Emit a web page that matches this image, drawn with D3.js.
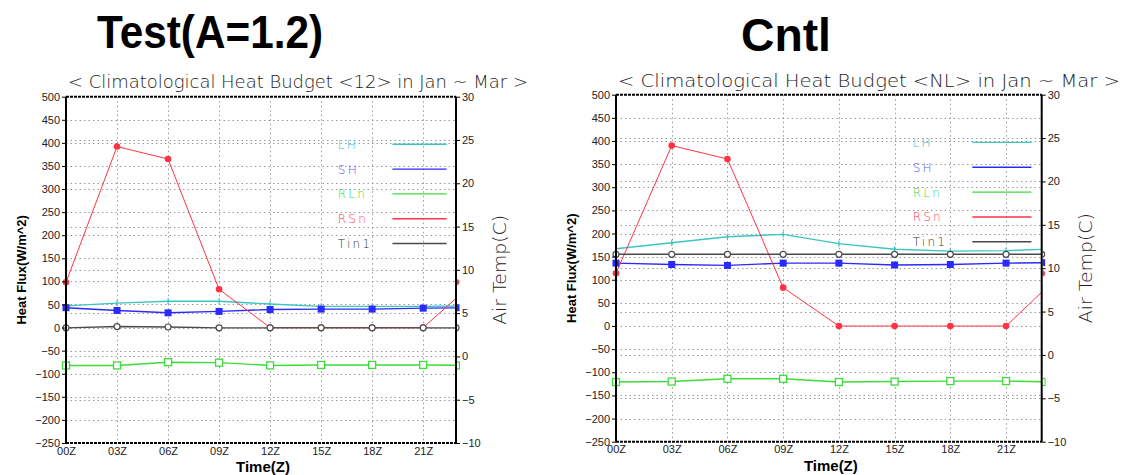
<!DOCTYPE html>
<html><head><meta charset="utf-8">
<script src="https://cdn.jsdelivr.net/npm/d3@7"></script>
<style>
html,body{margin:0;padding:0;background:#fff;}
svg{display:block;}
</style></head>
<body>
<svg id="chart" width="1126" height="475"></svg>
<script>
// ---------------- data ----------------
const hours = [0, 3, 6, 9, 12, 15, 18, 21, 24];
const xTicks = [0, 3, 6, 9, 12, 15, 18, 21];
const xTickLabels = ["00Z", "03Z", "06Z", "09Z", "12Z", "15Z", "18Z", "21Z"];
const fluxTicks = [-250, -200, -150, -100, -50, 0, 50, 100, 150, 200, 250, 300, 350, 400, 450, 500];
const tempTicks = [-10, -5, 0, 5, 10, 15, 20, 25, 30];
const seriesNames = ["LH", "SH", "RLn", "RSn", "Tin1"];

const testLH   = [47, 53, 57, 57, 51, 46, 46, 46, 47];
const testSH   = [43, 37, 32, 35, 39, 40, 40, 42, 43];
const testRLn  = [-82, -82, -75, -76, -82, -81, -81, -81, -82];
const testRSn  = [98, 392, 365, 83, 0, 0, 0, 0, 98];
const testTin1 = [3.3, 3.45, 3.4, 3.3, 3.3, 3.3, 3.3, 3.3, 3.3];

const cntlLH   = [167, 180, 193, 198, 178, 166, 162, 163, 167];
const cntlSH   = [136, 133, 131, 136, 136, 132, 133, 136, 137];
const cntlRLn  = [-121, -120, -114, -114, -121, -120, -119, -119, -121];
const cntlRSn  = [114, 390, 361, 83, 0, 0, 0, 0, 114];
const cntlTin1 = [11.6, 11.6, 11.6, 11.6, 11.6, 11.6, 11.6, 11.6, 11.6];

const titles = ["Test(A=1.2)", "Cntl"];
const subtitles = ["< Climatological Heat Budget <12> in Jan ~ Mar >",
                   "< Climatological Heat Budget <NL> in Jan ~ Mar >"];

// ---------------- styles / layout ----------------
const styles = {
  LH:   {color: "#3cc4c4", text: "#3cc4c4", marker: "tick"},
  SH:   {color: "#2a2aff", text: "#5a5aff", marker: "fsq"},
  RLn:  {color: "#3cdc3c", text: "#3cdc3c", marker: "osq"},
  RSn:  {color: "#ff3344", text: "#ff4455", marker: "fci", width: 1.0},
  Tin1: {color: "#4a4a4a", text: "#333", marker: "oci"}
};

const panels = [
  {left: 66, right: 456, top: 96.7, bottom: 443, xMax: 22.93,
   title: titles[0], titleX: 97, titleW: 226, titleY: 48,
   sub: subtitles[0], subX: 68, subW: 460, subY: 88,
   data: {LH: testLH, SH: testSH, RLn: testRLn, RSn: testRSn, Tin1: testTin1}},
  {left: 616, right: 1041.7, top: 94.7, bottom: 441.7, xMax: 22.92,
   title: titles[1], titleX: 741, titleW: 90, titleY: 51,
   sub: subtitles[1], subX: 618, subW: 502, subY: 86.5,
   data: {LH: cntlLH, SH: cntlSH, RLn: cntlRLn, RSn: cntlRSn, Tin1: cntlTin1}}
];

const svg = d3.select("#chart");
const thinFont = "'DejaVu Sans', 'Liberation Sans', sans-serif";
const tickFont = "'Liberation Sans', Arial, sans-serif";

panels.forEach((p, pi) => {
  const g = svg.append("g");
  const x = d3.scaleLinear().domain([0, p.xMax]).range([p.left, p.right]);
  const xc = x.copy().clamp(true);
  const yF = d3.scaleLinear().domain([-250, 500]).range([p.bottom, p.top]);
  const yT = d3.scaleLinear().domain([-10, 30]).range([p.bottom, p.top]);
  const W = p.right - p.left, H = p.bottom - p.top;

  // titles
  svg.append("text").attr("x", p.titleX).attr("y", p.titleY)
    .attr("textLength", p.titleW).attr("lengthAdjust", "spacingAndGlyphs")
    .style("font-family", "'Liberation Sans', Arial, sans-serif")
    .style("font-weight", "bold").style("font-size", "47px").style("fill", "#000")
    .text(p.title);
  svg.append("text").attr("x", p.subX).attr("y", p.subY)
    .attr("textLength", p.subW).attr("lengthAdjust", "spacingAndGlyphs")
    .style("font-family", thinFont).style("font-weight", "200")
    .style("font-size", "17px").style("fill", "#222")
    .text(p.sub);

  // grid
  const grid = g.append("g").attr("stroke", "#9a9a9a").attr("stroke-width", 1)
    .attr("stroke-dasharray", "1.5,3");
  grid.selectAll("line.gf").data(fluxTicks.filter(v => v > -250 && v < 500)).join("line")
    .attr("x1", p.left).attr("x2", p.right)
    .attr("y1", d => Math.round(yF(d)) + 0.5).attr("y2", d => Math.round(yF(d)) + 0.5);
  grid.selectAll("line.gt").data(tempTicks.filter(v => v > -10 && v < 30)).join("line")
    .attr("class", "gt")
    .attr("x1", p.left).attr("x2", p.right)
    .attr("y1", d => Math.round(yT(d)) + 0.5).attr("y2", d => Math.round(yT(d)) + 0.5);
  grid.selectAll("line.gx").data(xTicks.filter(v => v > 0)).join("line")
    .attr("class", "gx")
    .attr("y1", p.top).attr("y2", p.bottom)
    .attr("x1", d => Math.round(x(d)) + 0.5).attr("x2", d => Math.round(x(d)) + 0.5);

  // clip
  const clipId = "clip" + pi;
  svg.append("clipPath").attr("id", clipId).append("rect")
    .attr("x", p.left).attr("y", p.top - 2).attr("width", W).attr("height", H + 4);
  const edgeId = "edge" + pi;
  svg.append("clipPath").attr("id", edgeId).append("rect")
    .attr("x", p.right + 1).attr("y", p.top).attr("width", 3).attr("height", H);

  // lines
  const lines = g.append("g").attr("clip-path", `url(#${clipId})`);
  const markers = g.append("g");
  const edgeMarkers = g.append("g").attr("clip-path", `url(#${edgeId})`);

  seriesNames.forEach(name => {
    const st = styles[name];
    const vals = p.data[name];
    const ys = name === "Tin1" ? yT : yF;
    const pts = hours.map((h, i) => ({h, v: vals[i]}));
    const line = d3.line().x(d => x(d.h)).y(d => ys(d.v));
    lines.append("path").datum(pts).attr("d", line)
      .attr("fill", "none").attr("stroke", st.color)
      .attr("stroke-width", st.width || 1.4);

    const drawMarker = (sel, d) => {
      const cx = xc(d.h), cy = ys(d.v);
      if (st.marker === "fsq") {
        sel.append("rect").attr("x", cx - 3.5).attr("y", cy - 3.5).attr("width", 7).attr("height", 7)
          .attr("fill", st.color);
      } else if (st.marker === "osq") {
        sel.append("rect").attr("x", cx - 3.5).attr("y", cy - 3.5).attr("width", 7).attr("height", 7)
          .attr("fill", "#fff").attr("stroke", st.color).attr("stroke-width", 1.3);
      } else if (st.marker === "fci") {
        sel.append("circle").attr("cx", cx).attr("cy", cy).attr("r", 3.3).attr("fill", st.color);
      } else if (st.marker === "oci") {
        sel.append("circle").attr("cx", cx).attr("cy", cy).attr("r", 3)
          .attr("fill", "#fff").attr("stroke", st.color).attr("stroke-width", 1.2);
      } else if (st.marker === "tick") {
        sel.append("line").attr("x1", cx).attr("x2", cx).attr("y1", cy - 3).attr("y2", cy + 3)
          .attr("stroke", st.color).attr("stroke-width", 1.2);
      }
    };
    pts.forEach(d => {
      if (d.h <= p.xMax) drawMarker(markers, d);
      else if (st.marker !== "tick") drawMarker(edgeMarkers, d);
    });
  });

  // frame
  const frame = g.append("g");
  frame.append("line").attr("x1", p.left).attr("x2", p.left).attr("y1", p.top).attr("y2", p.bottom)
    .attr("stroke", "#000").attr("stroke-width", 2);
  frame.append("line").attr("x1", p.right).attr("x2", p.right).attr("y1", p.top).attr("y2", p.bottom)
    .attr("stroke", "#000").attr("stroke-width", 2);
  [p.top, p.bottom].forEach(yy => {
    frame.append("line").attr("x1", p.left).attr("x2", p.right).attr("y1", yy).attr("y2", yy)
      .attr("stroke", "#000").attr("stroke-width", 2).attr("stroke-dasharray", "3,1");
  });

  // axes
  const axL = d3.axisLeft(yF).tickValues(fluxTicks).tickSize(4).tickPadding(2)
    .tickFormat(d => d < 0 ? "\u2212" + Math.abs(d) : d);
  const gl = g.append("g").attr("transform", `translate(${p.left},0)`).call(axL);
  const axR = d3.axisRight(yT).tickValues(tempTicks).tickSize(4).tickPadding(2)
    .tickFormat(d => d < 0 ? "\u2212" + Math.abs(d) : d);
  const gr = g.append("g").attr("transform", `translate(${p.right},0)`).call(axR);
  const axB = d3.axisBottom(x).tickValues(xTicks).tickSize(0).tickPadding(4)
    .tickFormat((d, i) => xTickLabels[i]);
  const gb = g.append("g").attr("transform", `translate(0,${p.bottom})`).call(axB);
  [gl, gr, gb].forEach(a => {
    a.select(".domain").remove();
    a.selectAll(".tick line").attr("stroke", "#000");
    a.selectAll(".tick text").style("font-family", tickFont).style("font-size", "11px")
      .style("fill", "#222");
  });

  // axis titles
  g.append("text")
    .attr("transform", `translate(${p.left - 40},${(p.top + p.bottom) / 2}) rotate(-90)`)
    .attr("text-anchor", "middle")
    .style("font-family", "'Liberation Sans', Arial, sans-serif").style("font-weight", "bold")
    .style("font-size", "13px").style("fill", "#000")
    .text("Heat Flux(W/m^2)");
  g.append("text")
    .attr("transform", `translate(${p.right + 50},${(p.top + p.bottom) / 2}) rotate(-90)`)
    .attr("text-anchor", "middle").attr("textLength", 110).attr("lengthAdjust", "spacingAndGlyphs")
    .style("font-family", thinFont).style("font-weight", "200")
    .style("font-size", "18px").style("fill", "#222")
    .text("Air Temp(C)");
  g.append("text")
    .attr("x", (p.left + p.right) / 2 + 2).attr("y", p.bottom + 29)
    .attr("text-anchor", "middle")
    .style("font-family", "'Liberation Sans', Arial, sans-serif").style("font-weight", "bold")
    .style("font-size", "15px").style("fill", "#000")
    .text("Time(Z)");

  // legend
  const leg = g.append("g");
  seriesNames.forEach((name, i) => {
    const st = styles[name];
    const ly = p.top + H * 0.1375 + i * H * 0.0716;
    leg.append("text").attr("x", p.left + W * 0.697).attr("y", ly + 4.5)
      .style("font-family", thinFont).style("font-weight", "200")
      .style("font-size", "12px").style("letter-spacing", "2.2px")
      .style("fill", st.text).text(name);
    leg.append("line").attr("x1", p.left + W * 0.837).attr("x2", p.left + W * 0.976)
      .attr("y1", ly).attr("y2", ly).attr("stroke", st.color).attr("stroke-width", 1.4);
  });
});
</script>
</body></html>
